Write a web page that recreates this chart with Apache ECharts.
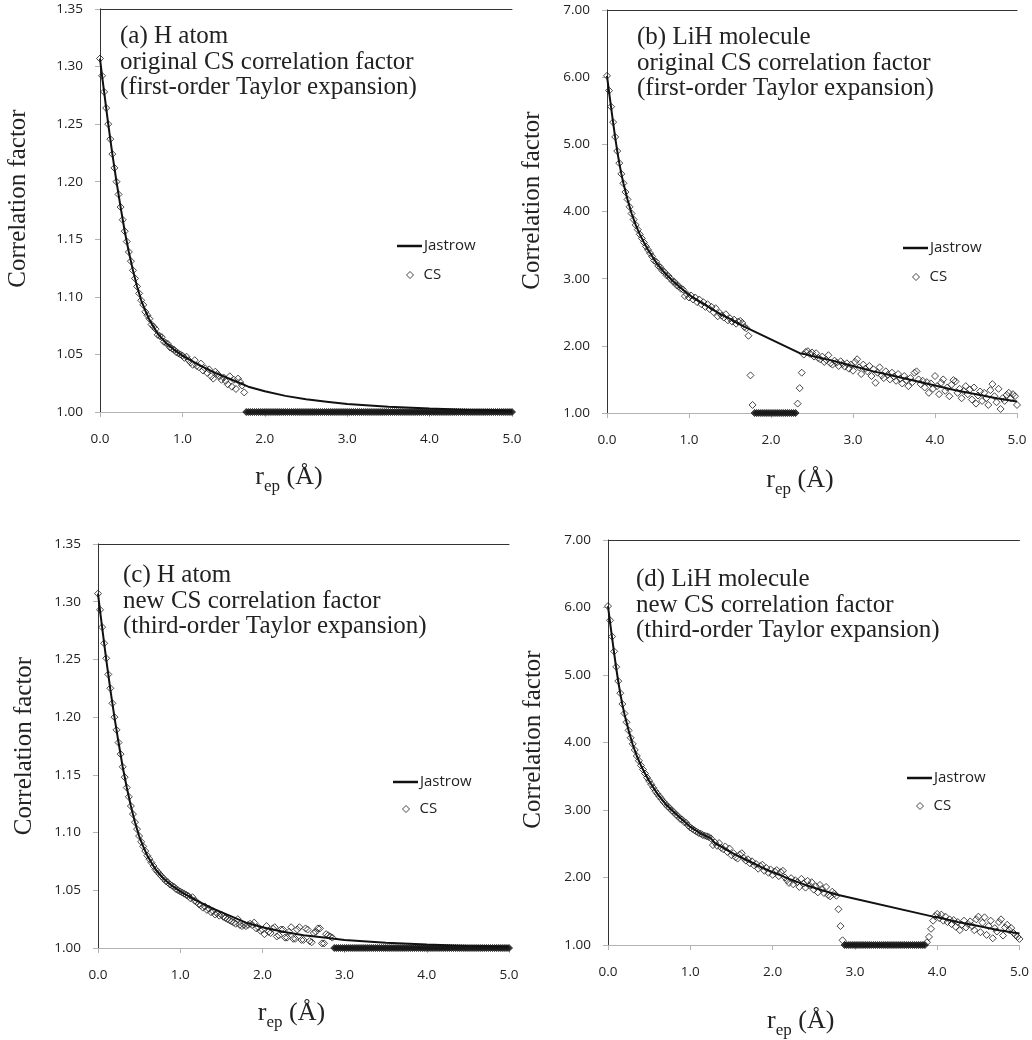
<!DOCTYPE html>
<html><head><meta charset="utf-8">
<script src="https://cdn.jsdelivr.net/npm/echarts@6/dist/echarts.min.js"></script>
<style>html,body{margin:0;padding:0;background:#fff}#c{width:1032px;height:1040px}</style>
</head><body><div id="c"></div>
<script>
// sample positions r_ep (Å) of the CS points
const rGrid = [
0,0.025,0.05,0.075,0.1,0.125,0.15,0.175,0.2,0.225,0.25,0.275,0.3,0.325,0.35,0.375,0.4,0.425,0.45,0.475,
0.5,0.525,0.55,0.575,0.6,0.625,0.65,0.675,0.7,0.725,0.75,0.775,0.8,0.825,0.85,0.875,0.9,0.925,0.95,0.975,
1,1.025,1.05,1.075,1.1,1.125,1.15,1.175,1.2,1.225,1.25,1.275,1.3,1.325,1.35,1.375,1.4,1.425,1.45,1.475,
1.5,1.525,1.55,1.575,1.6,1.625,1.65,1.675,1.7,1.725,1.75,1.775,1.8,1.825,1.85,1.875,1.9,1.925,1.95,1.975,
2,2.025,2.05,2.075,2.1,2.125,2.15,2.175,2.2,2.225,2.25,2.275,2.3,2.325,2.35,2.375,2.4,2.425,2.45,2.475,
2.5,2.525,2.55,2.575,2.6,2.625,2.65,2.675,2.7,2.725,2.75,2.775,2.8,2.825,2.85,2.875,2.9,2.925,2.95,2.975,
3,3.025,3.05,3.075,3.1,3.125,3.15,3.175,3.2,3.225,3.25,3.275,3.3,3.325,3.35,3.375,3.4,3.425,3.45,3.475,
3.5,3.525,3.55,3.575,3.6,3.625,3.65,3.675,3.7,3.725,3.75,3.775,3.8,3.825,3.85,3.875,3.9,3.925,3.95,3.975,
4,4.025,4.05,4.075,4.1,4.125,4.15,4.175,4.2,4.225,4.25,4.275,4.3,4.325,4.35,4.375,4.4,4.425,4.45,4.475,
4.5,4.525,4.55,4.575,4.6,4.625,4.65,4.675,4.7,4.725,4.75,4.775,4.8,4.825,4.85,4.875,4.9,4.925,4.95,4.975,
5];

// (a) H atom, original CS
const csA = [
1.307,1.292,1.278,1.264,1.250,1.237,1.224,1.212,1.200,1.189,1.178,1.167,1.157,1.148,1.139,1.131,1.123,1.116,1.109,1.103,
1.097,1.093,1.087,1.084,1.081,1.076,1.074,1.072,1.067,1.066,1.065,1.061,1.060,1.059,1.056,1.055,1.054,1.052,1.051,1.050,
1.049,1.047,1.048,1.045,1.043,1.041,1.045,1.040,1.039,1.042,1.036,1.038,1.034,1.037,1.031,1.029,1.035,1.033,1.031,1.028,
1.030,1.027,1.024,1.031,1.022,1.028,1.020,1.029,1.026,1.023,1.017,1,1,1,1,1,1,1,1,1,
1,1,1,1,1,1,1,1,1,1,1,1,1,1,1,1,1,1,1,1,
1,1,1,1,1,1,1,1,1,1,1,1,1,1,1,1,1,1,1,1,
1,1,1,1,1,1,1,1,1,1,1,1,1,1,1,1,1,1,1,1,
1,1,1,1,1,1,1,1,1,1,1,1,1,1,1,1,1,1,1,1,
1,1,1,1,1,1,1,1,1,1,1,1,1,1,1,1,1,1,1,1,
1,1,1,1,1,1,1,1,1,1,1,1,1,1,1,1,1,1,1,1,
1];

// (c) H atom, new CS
const csC = [
1.307,1.293,1.278,1.264,1.251,1.237,1.225,1.212,1.200,1.189,1.178,1.168,1.157,1.148,1.139,1.131,1.123,1.116,1.109,1.103,
1.097,1.092,1.088,1.084,1.080,1.077,1.074,1.071,1.068,1.066,1.064,1.062,1.060,1.058,1.057,1.055,1.054,1.053,1.051,1.050,
1.049,1.048,1.047,1.046,1.045,1.043,1.044,1.041,1.040,1.038,1.037,1.035,1.036,1.033,1.034,1.031,1.032,1.029,1.030,1.028,
1.029,1.027,1.026,1.025,1.024,1.023,1.022,1.021,1.025,1.020,1.019,1.020,1.019,1.020,1.021,1.020,1.022,1.017,1.018,1.015,
1.016,1.012,1.019,1.014,1.013,1.017,1.018,1.010,1.011,1.016,1.016,1.009,1.009,1.014,1.018,1.008,1.008,1.016,1.018,1.007,
1.007,1.017,1.016,1.006,1.005,1.013,1.014,1.017,1.017,1.004,1.004,1.012,1.011,1.010,1.009,1,1,1,1,1,
1,1,1,1,1,1,1,1,1,1,1,1,1,1,1,1,1,1,1,1,
1,1,1,1,1,1,1,1,1,1,1,1,1,1,1,1,1,1,1,1,
1,1,1,1,1,1,1,1,1,1,1,1,1,1,1,1,1,1,1,1,
1,1,1,1,1,1,1,1,1,1,1,1,1,1,1,1,1,1,1,1,
1];

// (b) LiH molecule, original CS
const csB = [
6.02,5.80,5.56,5.33,5.11,4.90,4.72,4.56,4.42,4.29,4.18,4.07,3.97,3.88,3.80,3.73,3.66,3.60,3.54,3.48,
3.43,3.38,3.33,3.27,3.25,3.19,3.17,3.12,3.10,3.05,3.04,3.00,2.96,2.95,2.90,2.89,2.85,2.84,2.74,2.77,
2.72,2.75,2.69,2.72,2.65,2.69,2.62,2.65,2.58,2.62,2.55,2.58,2.50,2.56,2.44,2.49,2.45,2.42,2.47,2.38,
2.41,2.36,2.39,2.33,2.36,2.37,2.34,2.28,2.26,2.15,1.56,1.12,1,1,1,1,1,1,1,1,
1,1,1,1,1,1,1,1,1,1,1,1,1,1.14,1.37,1.60,1.87,1.91,1.92,1.88,
1.90,1.84,1.89,1.82,1.80,1.84,1.76,1.79,1.86,1.74,1.72,1.78,1.75,1.70,1.77,1.73,1.69,1.74,1.66,1.72,
1.63,1.76,1.80,1.68,1.58,1.72,1.66,1.62,1.70,1.55,1.65,1.45,1.60,1.68,1.56,1.52,1.62,1.57,1.50,1.60,
1.54,1.48,1.58,1.51,1.44,1.55,1.49,1.40,1.52,1.46,1.60,1.62,1.50,1.43,1.48,1.38,1.46,1.30,1.44,1.36,
1.55,1.40,1.28,1.45,1.50,1.33,1.38,1.25,1.42,1.49,1.47,1.30,1.36,1.22,1.33,1.40,1.28,1.35,1.20,1.38,
1.14,1.26,1.32,1.18,1.30,1.22,1.12,1.34,1.43,1.25,1.16,1.36,1.06,1.22,1.18,1.27,1.30,1.22,1.28,1.25,
1.12];

// (d) LiH molecule, new CS
const csD = [
6.02,5.81,5.57,5.35,5.12,4.91,4.73,4.57,4.43,4.30,4.18,4.07,3.98,3.89,3.80,3.73,3.66,3.60,3.54,3.48,
3.43,3.38,3.33,3.28,3.24,3.20,3.16,3.12,3.09,3.05,3.03,2.99,2.97,2.93,2.91,2.87,2.86,2.82,2.81,2.77,
2.74,2.72,2.70,2.68,2.66,2.65,2.63,2.62,2.61,2.60,2.58,2.48,2.52,2.47,2.51,2.44,2.42,2.46,2.38,2.43,
2.33,2.36,2.30,2.28,2.34,2.36,2.29,2.25,2.27,2.21,2.24,2.18,2.20,2.13,2.17,2.19,2.10,2.14,2.07,2.12,
2.04,2.09,2.11,2.02,2.08,2.10,2.00,1.96,1.92,1.99,1.90,1.96,1.93,1.86,1.98,1.91,1.85,1.95,1.88,1.93,
1.82,1.87,1.78,1.89,1.83,1.77,1.86,1.74,1.72,1.79,1.76,1.73,1.53,1.28,1.07,1,1,1,1,1,
1,1,1,1,1,1,1,1,1,1,1,1,1,1,1,1,1,1,1,1,
1,1,1,1,1,1,1,1,1,1,1,1,1,1,1,1.04,1.12,1.24,1.36,1.43,
1.46,1.40,1.45,1.36,1.42,1.34,1.38,1.31,1.37,1.27,1.34,1.22,1.30,1.36,1.26,1.31,1.35,1.28,1.22,1.38,
1.42,1.19,1.33,1.41,1.15,1.28,1.36,1.10,1.25,1.20,1.34,1.38,1.14,1.26,1.30,1.22,1.25,1.18,1.15,1.12,
1.09];

// Jastrow curves
const rJH   = [0,0.025,0.05,0.075,0.1,0.125,0.15,0.175,0.2,0.25,0.3,0.35,0.4,0.45,0.5,0.55,0.6,0.7,0.8,0.9,1.0,1.2,1.4,1.6,1.8,2.0,2.25,2.5,2.75,3.0,3.5,4.0,4.5,5.0];
const jastH = [1.307,1.292,1.278,1.264,1.250,1.237,1.224,1.212,1.200,1.178,1.157,1.139,1.123,1.109,1.097,1.088,1.080,1.068,1.060,1.054,1.049,1.041,1.034,1.028,1.022,1.018,1.014,1.011,1.009,1.007,1.0045,1.003,1.0018,1.001];
const rJB   = [0,0.025,0.05,0.075,0.1,0.125,0.15,0.175,0.2,0.25,0.3,0.35,0.4,0.45,0.5,0.6,0.7,0.8,0.9,1.0,1.1,1.2,1.3,1.4,1.5,1.6,1.7,1.75,2.35,2.4,2.5,2.75,3.0,3.25,3.5,3.75,4.0,4.25,4.5,4.75,5.0];
const jastB = [6.02,5.78,5.55,5.32,5.10,4.90,4.72,4.56,4.42,4.18,3.97,3.80,3.66,3.54,3.43,3.24,3.09,2.97,2.86,2.76,2.68,2.61,2.53,2.46,2.40,2.33,2.27,2.24,1.89,1.88,1.85,1.78,1.70,1.62,1.55,1.48,1.41,1.34,1.28,1.22,1.17];
const rJD   = [0,0.025,0.05,0.075,0.1,0.125,0.15,0.175,0.2,0.25,0.3,0.35,0.4,0.45,0.5,0.6,0.7,0.8,0.9,1.0,1.1,1.2,1.25,1.3,1.4,1.5,1.6,1.7,1.8,1.9,2.0,2.2,2.4,2.6,2.8,3.95,4.0,4.25,4.5,4.75,5.0];
const jastD = [6.02,5.78,5.55,5.32,5.10,4.90,4.72,4.56,4.42,4.18,3.97,3.80,3.66,3.54,3.43,3.24,3.09,2.97,2.86,2.75,2.67,2.61,2.58,2.51,2.44,2.37,2.31,2.25,2.19,2.13,2.08,1.98,1.89,1.81,1.74,1.42,1.41,1.34,1.28,1.22,1.17];

const legendNames = ['Jastrow','CS'];
const panelTitles = [
 '(a) H atom\noriginal CS correlation factor\n(first-order Taylor expansion)',
 '(b) LiH molecule\noriginal CS correlation factor\n(first-order Taylor expansion)',
 '(c) H atom\nnew CS correlation factor\n(third-order Taylor expansion)',
 '(d) LiH molecule\nnew CS correlation factor\n(third-order Taylor expansion)'
];

[['csA',csA],['csB',csB],['csC',csC],['csD',csD]].forEach(([n,a])=>{ if(a.length!==rGrid.length) throw new Error(n+' length '+a.length); });
[[rJH,jastH],[rJB,jastB],[rJD,jastD]].forEach(([a,b],i)=>{ if(a.length!==b.length) throw new Error('jast '+i+' '+a.length+' '+b.length); });

const zip = (xs, ys) => xs.map((x,i)=>[x, ys[i]]);

const panels = [
 {cs:csA, rJ:rJH, j:jastH, yMin:1, yMax:1.35, yInt:0.05, grid:{left:100,top:9,width:412,height:403}, tpos:[120,24], leg:[397,246,406,275], xGap:50, xShift:17, yGap:69, yShift:12},
 {cs:csB, rJ:rJB, j:jastB, yMin:1, yMax:7, yInt:1, grid:{left:607,top:10,width:410,height:403}, tpos:[637,25], leg:[903,248,912,277], xGap:52, xShift:12, yGap:62, yShift:11},
 {cs:csC, rJ:rJH, j:jastH, yMin:1, yMax:1.35, yInt:0.05, grid:{left:98,top:544,width:411,height:404}, tpos:[123,563], leg:[393,782,402,809], xGap:50, xShift:12, yGap:61, yShift:0},
 {cs:csD, rJ:rJD, j:jastD, yMin:1, yMax:7, yInt:1, grid:{left:608,top:540,width:414,height:406}, tpos:[636,567], leg:[907,778,916,806], xGap:61, xShift:13, yGap:62, yShift:3}
];

const serif = 'Liberation Serif, Times New Roman, serif';
const sans = 'Open Sans, sans-serif';
const option = {animation:false, backgroundColor:'#fff', grid:[], xAxis:[], yAxis:[], series:[], title:[], legend:[]};
const csFill = params => (params.value[1] === 1 ? '#161616' : 'rgba(255,255,255,0)');

panels.forEach((p, i) => {
  option.grid.push(Object.assign({containLabel:false}, p.grid));
  option.xAxis.push({
    type:'value', gridIndex:i, min:0, max:5, interval:1, position:'bottom',
    axisLine:{show:true, lineStyle:{color:'#b3b3b3', width:1}},
    axisTick:{show:true, length:5, lineStyle:{color:'#b3b3b3'}},
    splitLine:{show:false},
    axisLabel:{margin:20, color:'#222', fontFamily:sans, fontSize:13.5, formatter:v=>v.toFixed(1)},
    name:'{r|r}{s|ep}{r| (Å)}', nameLocation:'middle', nameGap:p.xGap,
    nameTextStyle:{padding:[0, 2*p.xShift, 0, 0], rich:{
      r:{fontFamily:serif, fontSize:26, lineHeight:30, color:'#222'},
      s:{fontFamily:serif, fontSize:17, lineHeight:17, verticalAlign:'bottom', color:'#222', padding:[0,0,-3,0]}}}
  });
  option.xAxis.push({
    type:'value', gridIndex:i, min:0, max:5, position:'top',
    axisLine:{show:true, lineStyle:{color:'#333', width:1}},
    axisTick:{show:false}, axisLabel:{show:false}, splitLine:{show:false}
  });
  option.yAxis.push({
    type:'value', gridIndex:i, min:p.yMin, max:p.yMax, interval:p.yInt, position:'left',
    axisLine:{show:true, lineStyle:{color:'#b3b3b3', width:1}},
    axisTick:{show:true, length:5, lineStyle:{color:'#b3b3b3'}},
    splitLine:{show:false},
    axisLabel:{margin:17, color:'#222', fontFamily:sans, fontSize:13.5, formatter:v=>v.toFixed(2)},
    name:'Correlation factor', nameLocation:'middle', nameRotate:90, nameGap:p.yGap,
    nameTextStyle:{fontFamily:serif, fontSize:25, color:'#222', padding:[0,0,0,2*p.yShift]}
  });
  option.yAxis.push({
    type:'value', gridIndex:i, min:p.yMin, max:p.yMax, position:'right',
    axisLine:{show:true, lineStyle:{color:'#333', width:1}},
    axisTick:{show:false}, axisLabel:{show:false}, splitLine:{show:false}
  });
  option.series.push({
    name:legendNames[1], type:'scatter', xAxisIndex:2*i, yAxisIndex:2*i,
    data: zip(rGrid, p.cs), symbol:'diamond', symbolSize:7, clip:false, z:2,
    itemStyle:{color:csFill, borderColor:'#1a1a1a', borderWidth:1}
  });
  option.series.push({
    name:legendNames[0], type:'line', xAxisIndex:2*i, yAxisIndex:2*i,
    data: zip(p.rJ, p.j), showSymbol:false, symbol:'none', z:3,
    lineStyle:{color:'#111', width:2}, itemStyle:{color:'#111'}
  });
  option.title.push({
    text: panelTitles[i], left:p.tpos[0], top:p.tpos[1], padding:0,
    textStyle:{fontFamily:serif, fontWeight:'normal', fontSize:25, lineHeight:25.5, color:'#222'}
  });
  option.legend.push({
    data:[legendNames[0]], left:p.leg[0], top:p.leg[1]-9, padding:0, icon:'rect',
    itemWidth:25, itemHeight:2.5, selectedMode:false,
    textStyle:{fontFamily:sans, fontSize:15, color:'#222', lineHeight:18, padding:[0,0,0,-3]}
  });
  option.legend.push({
    data:[{name:legendNames[1], icon:'diamond', itemStyle:{color:'rgba(255,255,255,0)', borderColor:'#1a1a1a', borderWidth:1}}],
    left:p.leg[2], top:p.leg[3]-9, padding:0,
    itemWidth:7, itemHeight:7, selectedMode:false,
    textStyle:{fontFamily:sans, fontSize:15, color:'#222', lineHeight:18, padding:[0,0,0,5]}
  });
});

const chart = echarts.init(document.getElementById('c'), null, {renderer:'canvas'});
chart.setOption(option);
</script></body></html>
